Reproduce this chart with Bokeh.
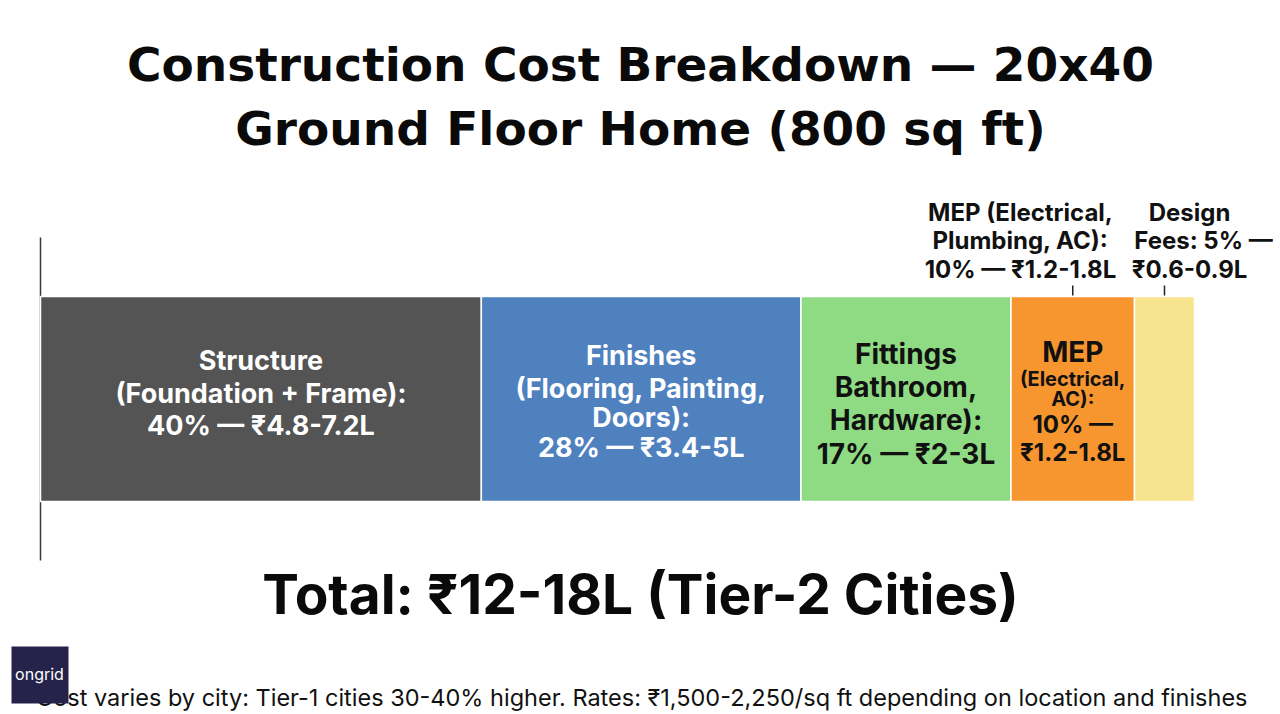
from bokeh.plotting import figure
from bokeh.models import Range1d
from bokeh.core.properties import value
from bokeh.embed import file_html
from bokeh.resources import INLINE
import numpy as np

# ---------------- data ----------------
categories = ["Structure", "Finishes", "Fittings", "MEP", "Design Fees"]
shares = [38.2, 27.7, 18.2, 10.7, 5.2]          # bar widths as drawn (percent of total)
colors = ["#545454", "#4F81BF", "#8FDB84", "#F7952F", "#F8E48E"]

inner_lines = [
    ["Structure", "(Foundation + Frame):", "40% \u2014 \u20b94.8-7.2L"],
    ["Finishes", "(Flooring, Painting,", "Doors):", "28% \u2014 \u20b93.4-5L"],
    ["Fittings", "Bathroom,", "Hardware):", "17% \u2014 \u20b92-3L"],
    ["MEP", "(Electrical,", "AC):", "10% \u2014", "\u20b91.2-1.8L"],
    [],
]
callout_mep = ["MEP (Electrical,", "Plumbing, AC):", "10% \u2014 \u20b91.2-1.8L"]
callout_design = ["Design", "Fees: 5% \u2014", "\u20b90.6-0.9L"]

title_lines = ["Construction Cost Breakdown \u2014 20x40", "Ground Floor Home (800 sq ft)"]
total_text = "Total: \u20b912-18L (Tier-2 Cities)"
footnote = ("Cost varies by city: Tier-1 cities 30-40% higher. Rates: \u20b91,500-2,250/sq ft "
            "depending on location and finishes")

# ---------------- geometry helpers (page pixels -> data) ----------------
W, H = 1280, 714
OFF = 0
BAR_LEFT_PX = 40.0
BAR_W_PX = 1154.0
BAR_MID_PX = 398.5
BAR_H_PX = 205.0
total = float(sum(shares))
K = BAR_W_PX / total


def X(px):
    return (px - BAR_LEFT_PX) / K


def Y(py):
    return (BAR_MID_PX - py) / BAR_H_PX


p = figure(width=W, height=H, output_backend="svg", toolbar_location=None,
           x_range=Range1d(X(OFF), X(OFF + W)), y_range=Range1d(Y(OFF + H), Y(OFF)),
           min_border=0, outline_line_color=None)
p.axis.visible = False
p.grid.visible = False
p.background_fill_color = "white"
p.border_fill_color = "white"

rights = np.cumsum(shares)
lefts = rights - np.array(shares)
centers = (lefts + rights) / 2

# axis line at start
p.segment(x0=[0], y0=[Y(237)], x1=[0], y1=[Y(560)], line_color="#3a3a3a", line_width=1.5)

# stacked bar
p.hbar(y=[0] * len(shares), left=lefts, right=rights, height=1.0,
       fill_color=colors, line_color="white", line_width=1.5)

BOLD = value("Inter")

# inner labels
inner_specs = {
    0: dict(ys=[360, 393, 425], sizes=[27, 27, 27], color="white"),
    1: dict(ys=[355, 388, 417, 447], sizes=[27, 27, 27, 27], color="white"),
    2: dict(ys=[353, 386, 419, 453], sizes=[28, 28, 28, 28], color="#111111"),
    3: dict(ys=[351, 378, 398, 424, 452], sizes=[28, 20, 20, 24, 24], color="#111111"),
}
for i, lines in enumerate(inner_lines):
    if not lines:
        continue
    spec = inner_specs[i]
    for t, yy, sz in zip(lines, spec["ys"], spec["sizes"]):
        p.text(x=[centers[i]], y=[Y(yy)], text=[t], text_font=BOLD, text_font_style="bold",
               text_font_size=f"{sz}px", text_color=spec["color"],
               text_align="center", text_baseline="middle")

# callouts above the small segments
p.segment(x0=[centers[3], centers[4]], y0=[Y(285), Y(285)],
          x1=[centers[3], centers[4]], y1=[Y(295), Y(295)], line_color="#222222", line_width=1.5)
for t, yy in zip(callout_mep, [212, 240, 269]):
    p.text(x=[X(1020)], y=[Y(yy)], text=[t], text_font=BOLD, text_font_style="bold",
           text_font_size="24px", text_color="#111111", text_align="center", text_baseline="middle")
for t, yy, xx in zip(callout_design, [212, 240, 269], [1189, 1203, 1189]):
    p.text(x=[X(xx)], y=[Y(yy)], text=[t], text_font=BOLD, text_font_style="bold",
           text_font_size="24px", text_color="#111111", text_align="center", text_baseline="middle")

# title
for t, yy in zip(title_lines, [64, 128]):
    p.text(x=[X(640)], y=[Y(yy)], text=[t], text_font=value("DejaVu Sans"), text_font_style="bold",
           text_font_size="47px", text_color="#0a0a0a", text_align="center", text_baseline="middle")

# total
p.text(x=[X(640)], y=[Y(593)], text=[total_text], text_font=BOLD, text_font_style="bold",
       text_font_size="55px", text_color="#0a0a0a", text_align="center", text_baseline="middle")

# footnote
p.text(x=[X(1247)], y=[Y(697)], text=[footnote], text_font=value("Inter"),
       text_font_size="23.5px", text_color="#111111", text_align="right", text_baseline="alphabetic")

# logo (drawn after the footnote so it covers its start)
p.quad(left=[X(11)], right=[X(68)], top=[Y(646)], bottom=[Y(703)],
       fill_color="#25234A", line_color=None)
p.text(x=[X(39)], y=[Y(673)], text=["ongrid"], text_font=value("Inter"),
       text_font_size="16px", text_color="white", text_align="center", text_baseline="middle")

open("out.html", "w").write(file_html(p, INLINE))
